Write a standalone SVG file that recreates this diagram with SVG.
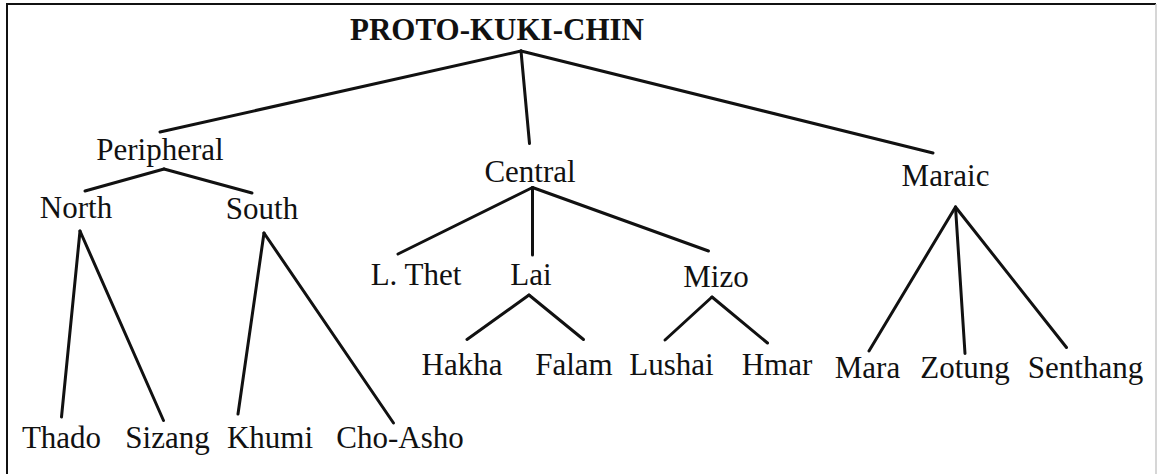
<svg xmlns="http://www.w3.org/2000/svg" width="1160" height="474" viewBox="0 0 1160 474">
  <style>
    .t { font-family: "Liberation Serif", "Times New Roman", serif; font-size: 31px; fill: #111; text-anchor: middle; }
    .b { font-weight: bold; }
    .e { stroke: #111; stroke-width: 3; stroke-linecap: round; fill: none; }
  </style>
  <rect x="0" y="0" width="1160" height="474" fill="#ffffff"/>
  <g id="frame">
    <path d="M7,480 V4 H1156" fill="none" stroke="#111" stroke-width="2"/>
    <path d="M1156,4 V480" fill="none" stroke="#c8c8c8" stroke-width="1.5"/>
  </g>
  <g id="connectors">
    <line class="e" x1="521" y1="51" x2="160" y2="132"/>
    <line class="e" x1="521" y1="51" x2="529.5" y2="143.5"/>
    <line class="e" x1="521" y1="51" x2="933" y2="153"/>
    <line class="e" x1="164" y1="169" x2="85" y2="191"/>
    <line class="e" x1="164" y1="169" x2="252" y2="193"/>
    <line class="e" x1="80" y1="231" x2="61.5" y2="417"/>
    <line class="e" x1="80" y1="231" x2="163.5" y2="420.5"/>
    <line class="e" x1="264" y1="233" x2="238" y2="414"/>
    <line class="e" x1="264" y1="233" x2="393.5" y2="423"/>
    <line class="e" x1="532.5" y1="187.5" x2="398" y2="254"/>
    <line class="e" x1="532.5" y1="187.5" x2="532.5" y2="255"/>
    <line class="e" x1="532.5" y1="187.5" x2="708.5" y2="251"/>
    <line class="e" x1="529" y1="295" x2="467" y2="339.5"/>
    <line class="e" x1="529" y1="295" x2="583.5" y2="339.5"/>
    <line class="e" x1="712" y1="297" x2="665" y2="340"/>
    <line class="e" x1="712" y1="297" x2="767.5" y2="343"/>
    <line class="e" x1="955.5" y1="207" x2="869" y2="351"/>
    <line class="e" x1="955.5" y1="207" x2="965" y2="353.5"/>
    <line class="e" x1="955.5" y1="207" x2="1066.5" y2="347.5"/>
  </g>
  <g id="proto-kuki-chin"><text class="t b" x="497" y="40">PROTO-KUKI-CHIN</text></g>
  <g id="peripheral"><text class="t" x="160" y="160">Peripheral</text></g>
  <g id="central"><text class="t" x="530" y="182">Central</text></g>
  <g id="maraic"><text class="t" x="945.5" y="186">Maraic</text></g>
  <g id="north"><text class="t" x="76" y="218">North</text></g>
  <g id="south"><text class="t" x="262" y="219">South</text></g>
  <g id="l-thet"><text class="t" x="416" y="285">L. Thet</text></g>
  <g id="lai"><text class="t" x="531" y="285">Lai</text></g>
  <g id="mizo"><text class="t" x="716" y="287">Mizo</text></g>
  <g id="hakha"><text class="t" x="462" y="375">Hakha</text></g>
  <g id="falam"><text class="t" x="574" y="375">Falam</text></g>
  <g id="lushai"><text class="t" x="671.5" y="375">Lushai</text></g>
  <g id="hmar"><text class="t" x="777" y="375">Hmar</text></g>
  <g id="mara"><text class="t" x="867.5" y="378">Mara</text></g>
  <g id="zotung"><text class="t" x="965" y="378">Zotung</text></g>
  <g id="senthang"><text class="t" x="1085.5" y="378">Senthang</text></g>
  <g id="thado"><text class="t" x="61.5" y="448">Thado</text></g>
  <g id="sizang"><text class="t" x="167.5" y="448">Sizang</text></g>
  <g id="khumi"><text class="t" x="270" y="448">Khumi</text></g>
  <g id="cho-asho"><text class="t" x="400" y="448">Cho-Asho</text></g>
</svg>
